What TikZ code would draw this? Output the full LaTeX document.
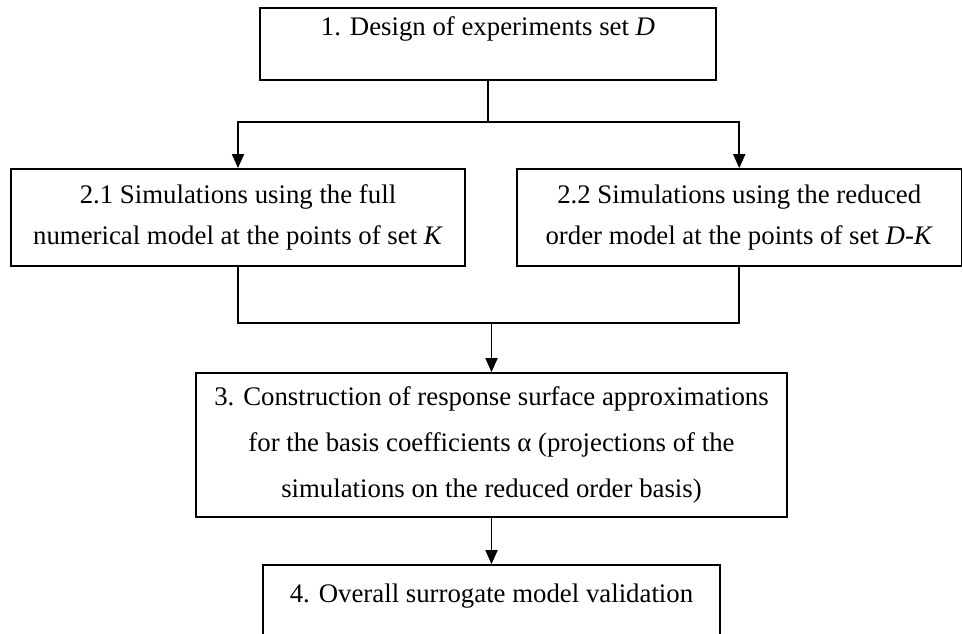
\documentclass[tikz,border=0pt]{standalone}
\usepackage{fontspec}
\setmainfont{Liberation Serif}
\usetikzlibrary{arrows.meta}
\tikzset{
  stagebox/.style={draw, line width=0.9pt, rectangle, align=center, inner xsep=0pt, inner ysep=0pt, minimum height=0pt},
}
\begin{document}
\begin{tikzpicture}[x=0.5pt, y=-0.5pt, >={Triangle[length=7pt,width=6pt]}, line width=0.9pt, font=\fontsize{13.4}{20.5}\selectfont]
	\useasboundingbox (0,0) rectangle (963,633);
	\clip (0,0) rectangle (963,633);
	% stages
	\node[stagebox, minimum width=228pt, text height=13.5pt, text depth=22.5pt] (doe) at (488,44) {1. Design of experiments set \textit{D}};
	\node[stagebox, minimum width=227pt, minimum height=48.5pt] (full) at (238,217.5) {2.1 Simulations using the full\\numerical model at the points of set \textit{K}};
	\node[stagebox, minimum width=222.25pt, minimum height=48.5pt] (rom) at (739.25,217.5) {2.2 Simulations using the reduced\\order model at the points of set \textit{D-K}};
	\node[stagebox, minimum width=295.5pt, minimum height=72pt, font=\fontsize{13.4}{23}\selectfont] (rsa) at (491.5,445) {3. Construction of response surface approximations\\for the basis coefficients α (projections of the\\simulations on the reduced order basis)};
	\node[stagebox, minimum width=228.5pt, text height=18.5pt, text depth=21.5pt] (valid) at (491.5,605) {4. Overall surrogate model validation};
	% connectors
	\coordinate (split) at (488,122);
	\coordinate (merge) at (491.5,323);
	\draw (doe.south) -- (split);
	\draw[->] (split) -| (full.north);
	\draw[->] (split) -| (rom.north);
	\draw (full.south) |- (merge) -| (rom.south);
	\draw[->] (merge) -- (rsa.north);
	\draw[->] (rsa.south) -- (valid.north);
\end{tikzpicture}
\end{document}
